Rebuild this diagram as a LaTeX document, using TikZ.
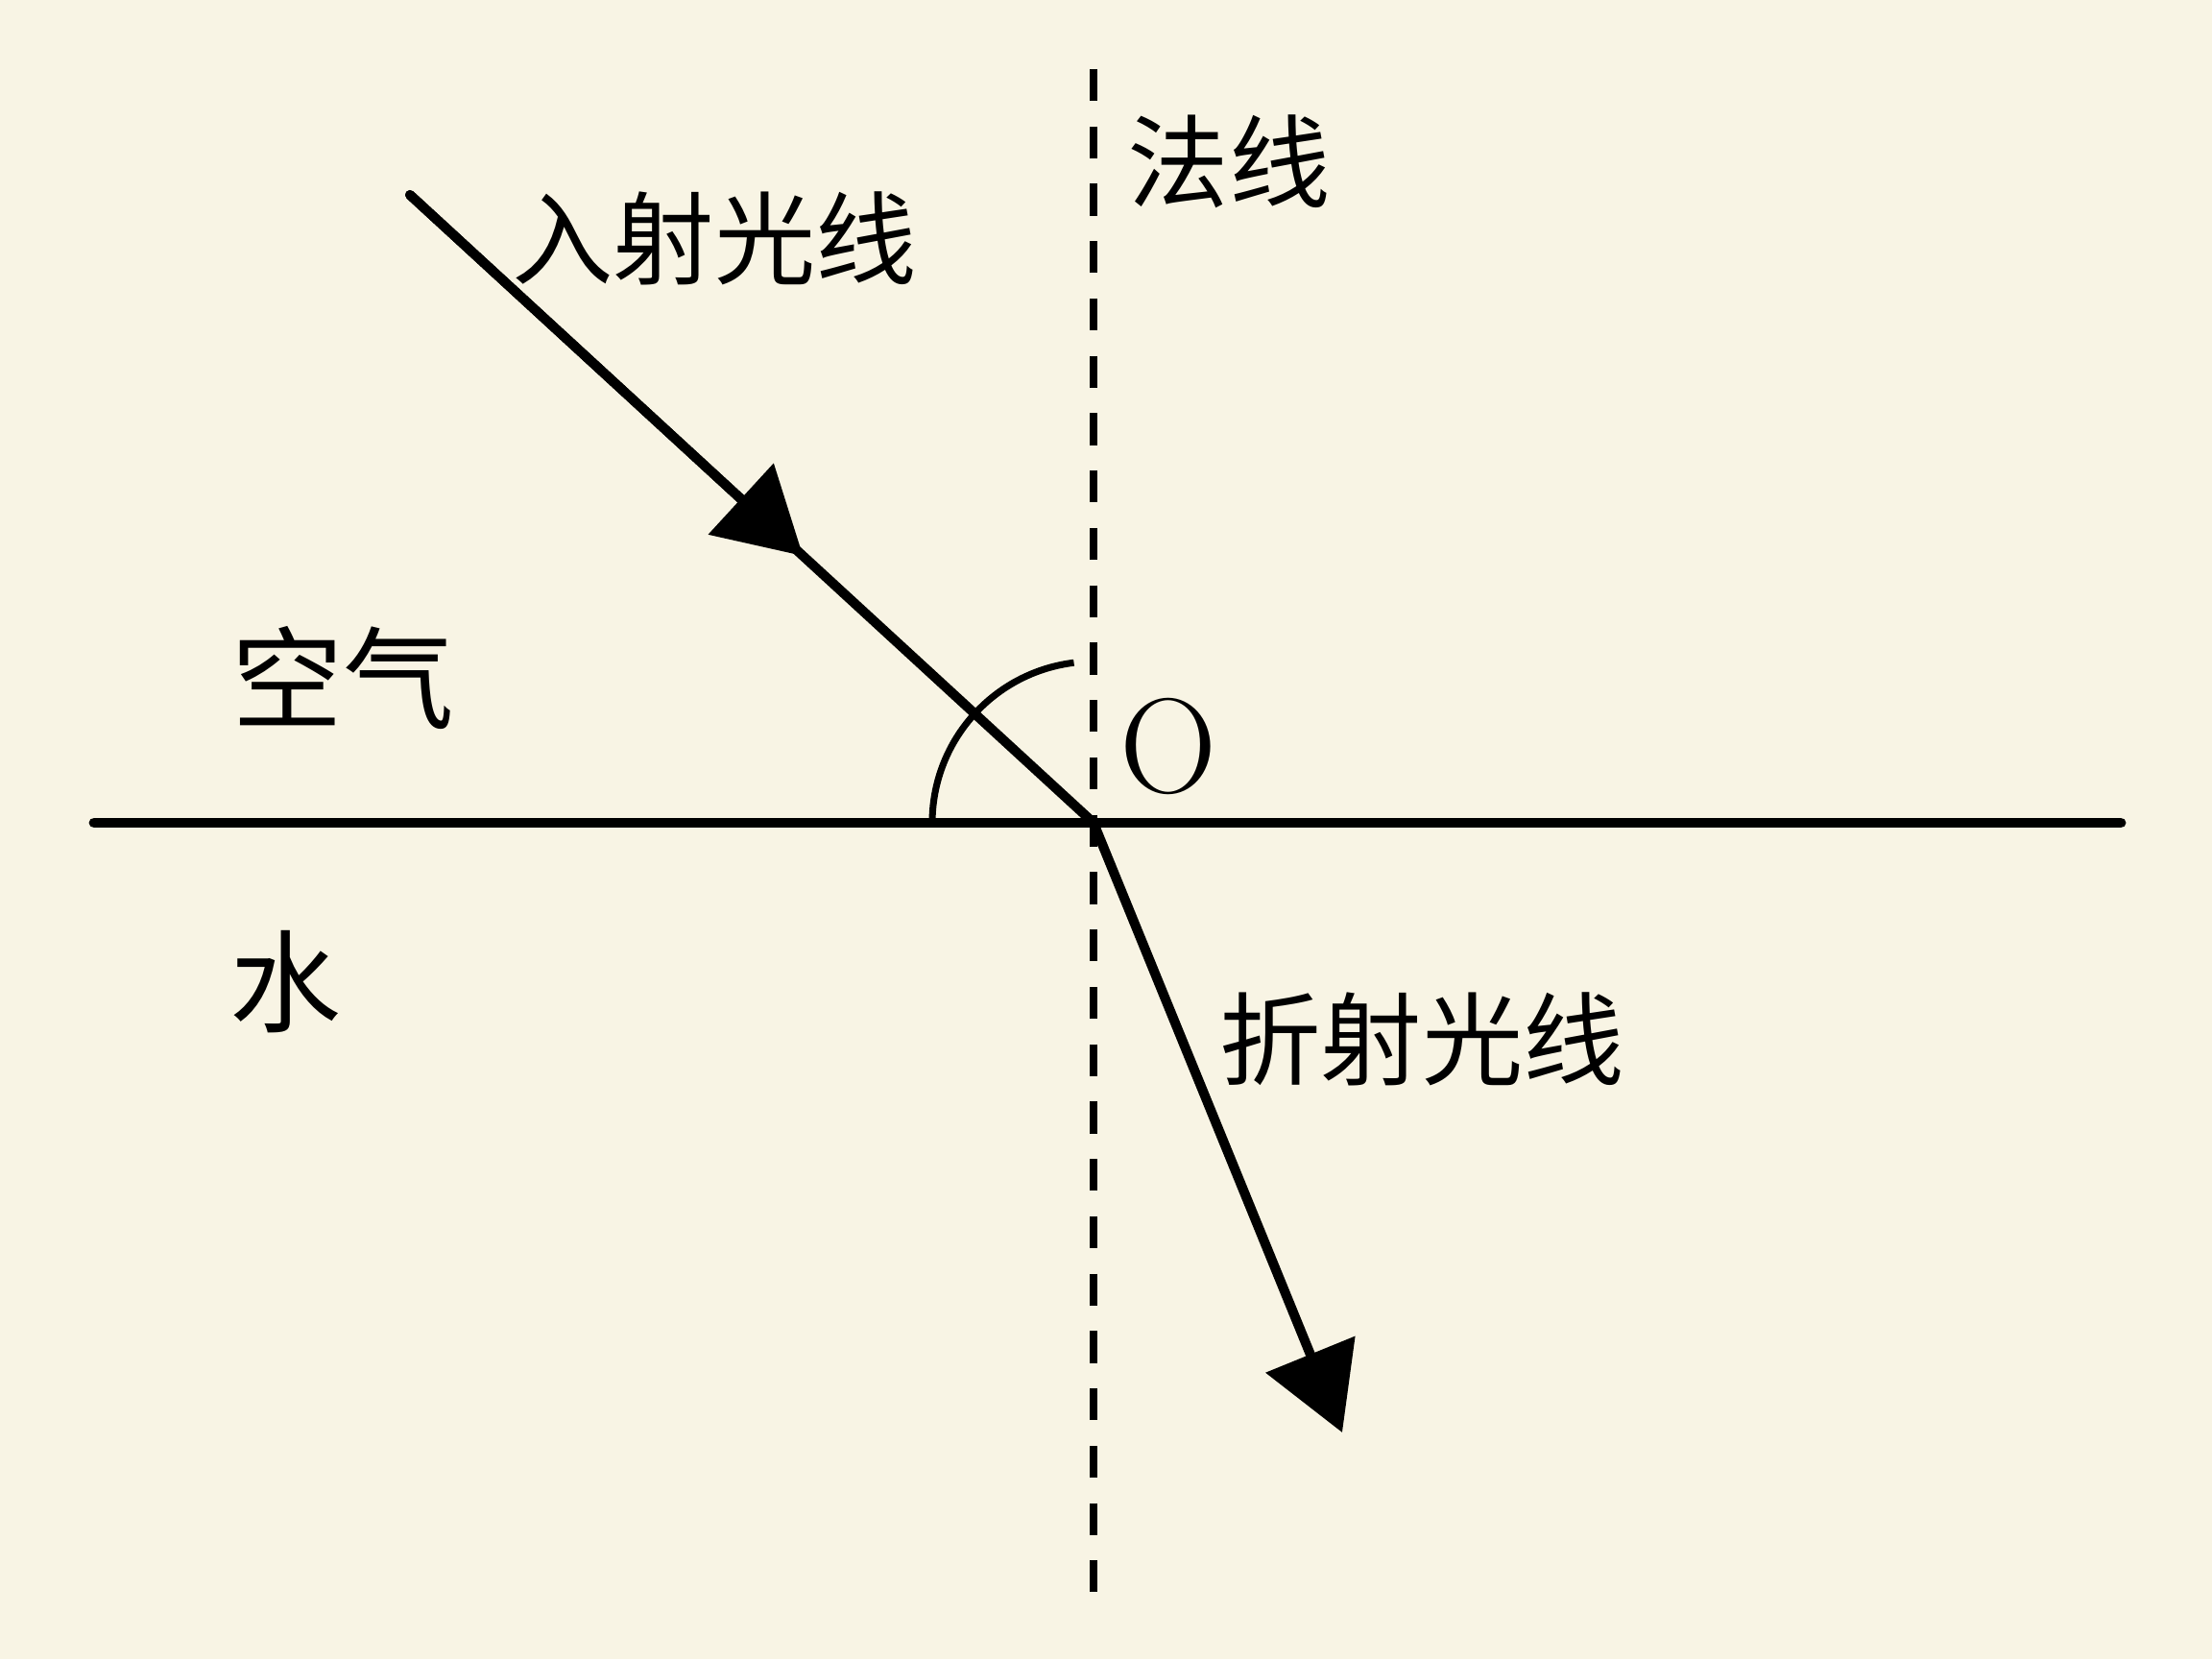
\documentclass[tikz,border=0pt]{standalone}
\usepackage{fontspec}
\newfontfamily\cjk{Noto Sans CJK SC}
\usetikzlibrary{arrows.meta,calc}
\definecolor{paper}{RGB}{248,244,228}

\begin{document}
\begin{tikzpicture}[
	ray/.style={line width=2.85pt, line cap=round},
	normal/.style={line width=2.3pt, dash pattern=on 9.4pt off 7.6pt},
	tip/.style={-{Triangle[length=25pt,width=28pt]}},
	lbl/.style={font=\cjk\fontsize{30}{30}\selectfont, inner sep=0pt}
]
	%BACKGROUND
	\fill[paper] (0,0) rectangle (23.04,17.28);
	\useasboundingbox (0,0) rectangle (23.04,17.28);

	%POINTS
	\coordinate (O) at (11.39,8.71);
	\coordinate (W) at (0.98,8.71);
	\coordinate (E) at (22.09,8.71);
	\coordinate (Ntop) at (11.39,16.56);
	\coordinate (Nbot) at (11.39,0.70);
	\coordinate (S) at (4.27,15.25);
	\coordinate (R) at (13.98,2.36);

	%SURFACE AND NORMAL
	\draw[line width=3.1pt, line cap=round] (W)--(E);
	\draw[normal] (Ntop)--(Nbot); %dashed normal

	%RAYS
	\draw[ray] (S)--(O);
	\draw[ray,tip] (S)--($(S)!0.575!(O)$); %arrow half way
	\draw[ray,tip] (O)--(R);

	%ANGLE
	\draw[line width=2pt] ([shift={(179:1.68)}]O) arc[start angle=179,end angle=97,radius=1.68];

	%LABELS
	\node[lbl] (incident) at (7.44,14.80) {入射光线};
	\node[lbl] (normlbl) at (12.80,15.60) {法线};
	\node[lbl,font=\cjk\fontsize{33}{33}\selectfont] (air) at (3.57,10.22) {空气};
	\node[lbl,font=\cjk\fontsize{33}{33}\selectfont] (water) at (2.97,7.05) {水};
	\node[lbl] (refracted) at (14.81,6.46) {折射光线};
	\node[font=\fontsize{40}{40}\selectfont, inner sep=0pt] (olbl) at (12.17,9.51) {O};
\end{tikzpicture}
\end{document}
